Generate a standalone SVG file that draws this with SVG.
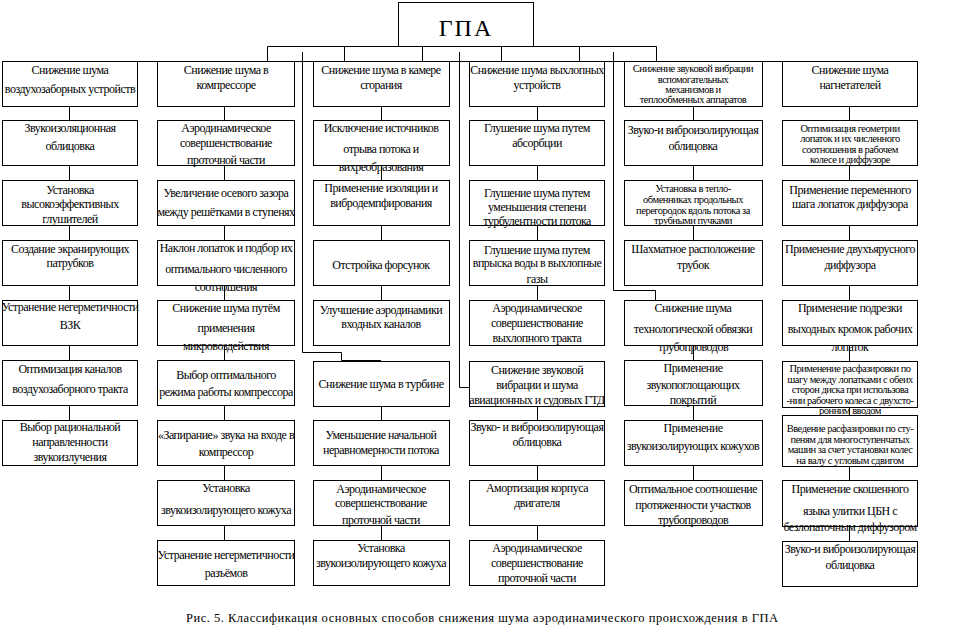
<svg xmlns="http://www.w3.org/2000/svg" width="965" height="637" viewBox="0 0 965 637">
<style>
.b{fill:#fff;stroke:#000;stroke-width:1}
.c{fill:none;stroke:#000;stroke-width:1}
text{font-family:"Times New Roman","Liberation Serif","DejaVu Serif",serif;font-size:12px;text-anchor:middle;letter-spacing:-0.5px;fill:#000}
.s{font-size:10.5px;letter-spacing:-0.5px}
.h{font-size:24px;letter-spacing:2px}
.cap{font-size:12.5px;letter-spacing:0}
</style>
<rect x="0" y="0" width="965" height="637" fill="#fff"/>
<g id="connectors" class="c">
<path d="M267.5 46.5H656.5"/>
<path d="M267.5 46.5V61M344.5 46.5V61M422.5 46.5V61M501.5 46.5V61M579.5 46.5V61M656.5 46.5V61"/>
<path d="M2 61.5H917"/>
<path d="M302.5 52V352.5H341.5V360.5H381"/>
<path d="M459.5 52V387.5H469"/>
<path d="M613.5 52V290.5H655.5V300"/>
<path d="M69.5 106V120M69.5 166V180M69.5 226V240M69.5 286V300M69.5 346V360M69.5 406V420"/>
<path d="M224.5 106V120M224.5 166V180M224.5 226V240M224.5 286V300M224.5 346V360M224.5 406V420M224.5 466V480M224.5 526V540"/>
<path d="M381.5 106V120M381.5 166V180M381.5 226V240M381.5 286V300M381.5 406V420M381.5 466V480M381.5 526V540"/>
<path d="M537.5 106V120M537.5 166V180M537.5 226V240M537.5 286V300M537.5 407V420M537.5 466V480M537.5 526V540"/>
<path d="M693.5 106V120M693.5 166V180M693.5 226V240M693.5 346V360M693.5 406V420M693.5 466V480"/>
<path d="M849.5 106V120M849.5 166V180M849.5 226V240M849.5 286V300M849.5 346V361M849.5 408V415M849.5 467V480M849.5 527V541"/>
</g>
<g id="gpa"><rect class="b" x="398.5" y="2.5" width="135" height="44"/><text class="h" x="466" y="36">ГПА</text></g>

<g id="c1n1"><rect class="b" x="2.5" y="61.5" width="135" height="45"/><text x="70" y="74">Снижение шума</text><text x="70" y="93">воздухозаборных  устройств</text></g>
<g id="c1n2"><rect class="b" x="2.5" y="120.5" width="135" height="45"/><text x="70" y="132">Звукоизоляционная</text><text x="70" y="150">облицовка</text></g>
<g id="c1n3"><rect class="b" x="2.5" y="180.5" width="135" height="45"/><text x="70" y="194">Установка</text><text x="70" y="208">высокоэффективных</text><text x="70" y="223">глушителей</text></g>
<g id="c1n4"><rect class="b" x="2.5" y="240.5" width="135" height="45"/><text x="70" y="253">Создание экранирующих</text><text x="70" y="267">патрубков</text></g>
<g id="c1n5"><rect class="b" x="2.5" y="300.5" width="135" height="45"/><text x="70" y="311">Устранение негерметичности</text><text x="70" y="329">ВЗК</text></g>
<g id="c1n6"><rect class="b" x="2.5" y="360.5" width="135" height="45"/><text x="70" y="373">Оптимизация каналов</text><text x="70" y="393">воздухозаборного тракта</text></g>
<g id="c1n7"><rect class="b" x="2.5" y="420.5" width="135" height="45"/><text x="70" y="431">Выбор рациональной</text><text x="70" y="446">направленности</text><text x="70" y="461">звукоизлучения</text></g>

<g id="c2n1"><rect class="b" x="157.5" y="61.5" width="137" height="45"/><text x="226" y="74">Снижение шума в</text><text x="226" y="89">компрессоре</text></g>
<g id="c2n2"><rect class="b" x="157.5" y="120.5" width="137" height="45"/><text x="226" y="132">Аэродинамическое</text><text x="226" y="147">совершенствование</text><text x="226" y="164">проточной части</text></g>
<g id="c2n3"><rect class="b" x="157.5" y="180.5" width="137" height="45"/><text x="226" y="197">Увеличение осевого зазора</text><text x="226" y="216">между решётками в ступенях</text></g>
<g id="c2n4"><rect class="b" x="157.5" y="240.5" width="137" height="45"/><text x="226" y="252">Наклон лопаток и подбор их</text><text x="226" y="273">оптимального  численного</text><text x="226" y="291">соотношения</text></g>
<g id="c2n5"><rect class="b" x="157.5" y="300.5" width="137" height="45"/><text x="226" y="312">Снижение шума путём</text><text x="226" y="332">применения</text><text x="226" y="350">микровоздействия</text></g>
<g id="c2n6"><rect class="b" x="157.5" y="360.5" width="137" height="45"/><text x="226" y="379">Выбор оптимального</text><text x="226" y="396">режима работы компрессора</text></g>
<g id="c2n7"><rect class="b" x="157.5" y="420.5" width="137" height="45"/><text x="226" y="439">«Запирание» звука на входе в</text><text x="226" y="456">компрессор</text></g>
<g id="c2n8"><rect class="b" x="157.5" y="480.5" width="137" height="45"/><text x="226" y="492">Установка</text><text x="226" y="514">звукоизолирующего  кожуха</text></g>
<g id="c2n9"><rect class="b" x="157.5" y="540.5" width="137" height="45"/><text x="226" y="559">Устранение негерметичности</text><text x="226" y="577">разъёмов</text></g>

<g id="c3n1"><rect class="b" x="313.5" y="61.5" width="136" height="45"/><text x="381" y="74">Снижение шума в камере</text><text x="381" y="89">сгорания</text></g>
<g id="c3n2"><rect class="b" x="313.5" y="120.5" width="136" height="45"/><text x="381" y="132">Исключение источников</text><text x="381" y="153">отрыва  потока и</text><text x="381" y="171">вихреобразования</text></g>
<g id="c3n3"><rect class="b" x="313.5" y="180.5" width="136" height="45"/><text x="381" y="192">Применение изоляции и</text><text x="381" y="207">вибродемпфирования</text></g>
<g id="c3n4"><rect class="b" x="313.5" y="240.5" width="136" height="45"/><text x="381" y="269">Отстройка форсунок</text></g>
<g id="c3n5"><rect class="b" x="313.5" y="300.5" width="136" height="45"/><text x="381" y="314">Улучшение аэродинамики</text><text x="381" y="328">входных каналов</text></g>
<g id="c3n6"><rect class="b" x="313.5" y="361.5" width="136" height="45"/><text x="381" y="388">Снижение шума в турбине</text></g>
<g id="c3n7"><rect class="b" x="313.5" y="420.5" width="136" height="45"/><text x="381" y="439">Уменьшение начальной</text><text x="381" y="454">неравномерности потока</text></g>
<g id="c3n8"><rect class="b" x="313.5" y="480.5" width="136" height="45"/><text x="381" y="493">Аэродинамическое</text><text x="381" y="507">совершенствование</text><text x="381" y="524">проточной части</text></g>
<g id="c3n9"><rect class="b" x="313.5" y="540.5" width="136" height="45"/><text x="381" y="552">Установка</text><text x="381" y="567">звукоизолирующего кожуха</text></g>

<g id="c4n1"><rect class="b" x="469.5" y="61.5" width="135" height="45"/><text x="537" y="74">Снижение шума выхлопных</text><text x="537" y="89">устройств</text></g>
<g id="c4n2"><rect class="b" x="469.5" y="120.5" width="135" height="45"/><text x="537" y="132">Глушение шума путем</text><text x="537" y="147">абсорбции</text></g>
<g id="c4n3"><rect class="b" x="469.5" y="180.5" width="135" height="45"/><text x="537" y="197">Глушение шума путем</text><text x="537" y="211">уменьшения  степени</text><text x="537" y="225">турбулентности потока</text></g>
<g id="c4n4"><rect class="b" x="469.5" y="240.5" width="135" height="45"/><text x="537" y="254">Глушение шума путем</text><text x="537" y="267">впрыска воды в выхлопные</text><text x="537" y="283">газы</text></g>
<g id="c4n5"><rect class="b" x="469.5" y="300.5" width="135" height="45"/><text x="537" y="312">Аэродинамическое</text><text x="537" y="327">совершенствование</text><text x="537" y="342">выхлопного тракта</text></g>
<g id="c4n6"><rect class="b" x="469.5" y="361.5" width="135" height="45"/><text x="537" y="374">Снижение звуковой</text><text x="537" y="389">вибрации и шума</text><text x="537" y="404">авиационных и судовых ГТД</text></g>
<g id="c4n7"><rect class="b" x="469.5" y="420.5" width="135" height="45"/><text x="537" y="431">Звуко- и виброизолирующая</text><text x="537" y="446">облицовка</text></g>
<g id="c4n8"><rect class="b" x="469.5" y="480.5" width="135" height="45"/><text x="537" y="492">Амортизация корпуса</text><text x="537" y="507">двигателя</text></g>
<g id="c4n9"><rect class="b" x="469.5" y="540.5" width="135" height="45"/><text x="537" y="552">Аэродинамическое</text><text x="537" y="567">совершенствование</text><text x="537" y="582">проточной части</text></g>

<g id="c5n1"><rect class="b" x="624.5" y="61.5" width="138" height="45"/><text class="s" x="693" y="72">Снижение звуковой вибрации</text><text class="s" x="693" y="83">вспомогательных</text><text class="s" x="693" y="93">механизмов и</text><text class="s" x="693" y="103">теплообменных аппаратов</text></g>
<g id="c5n2"><rect class="b" x="624.5" y="120.5" width="138" height="45"/><text x="693" y="134">Звуко-и виброизолирующая</text><text x="693" y="150">облицовка</text></g>
<g id="c5n3"><rect class="b" x="624.5" y="180.5" width="138" height="45"/><text class="s" x="693" y="192">Установка в тепло-</text><text class="s" x="693" y="203">обменниках продольных</text><text class="s" x="693" y="214">перегородок вдоль потока за</text><text class="s" x="693" y="224">трубными пучками</text></g>
<g id="c5n4"><rect class="b" x="624.5" y="240.5" width="138" height="45"/><text x="693" y="253">Шахматное расположение</text><text x="693" y="269">трубок</text></g>
<g id="c5n5"><rect class="b" x="624.5" y="300.5" width="138" height="45"/><text x="693" y="312">Снижение шума</text><text x="693" y="333">технологической обвязки</text><text x="693" y="351">трубопроводов</text></g>
<g id="c5n6"><rect class="b" x="624.5" y="360.5" width="138" height="45"/><text x="693" y="372">Применение</text><text x="693" y="389">звукопоглощающих</text><text x="693" y="404">покрытий</text></g>
<g id="c5n7"><rect class="b" x="624.5" y="420.5" width="138" height="45"/><text x="693" y="432">Применение</text><text x="693" y="450">звукоизолирующих кожухов</text></g>
<g id="c5n8"><rect class="b" x="624.5" y="480.5" width="138" height="45"/><text x="693" y="493">Оптимальное соотношение</text><text x="693" y="509">протяженности участков</text><text x="693" y="524">трубопроводов</text></g>

<g id="c6n1"><rect class="b" x="782.5" y="61.5" width="135" height="45"/><text x="850" y="74">Снижение шума</text><text x="850" y="89">нагнетателей</text></g>
<g id="c6n2"><rect class="b" x="782.5" y="120.5" width="135" height="45"/><text class="s" x="850" y="132">Оптимизация геометрии</text><text class="s" x="850" y="142">лопаток и их численного</text><text class="s" x="850" y="153">соотношения в рабочем</text><text class="s" x="850" y="163">колесе и диффузоре</text></g>
<g id="c6n3"><rect class="b" x="782.5" y="180.5" width="135" height="45"/><text x="850" y="194">Применение переменного</text><text x="850" y="208">шага лопаток диффузора</text></g>
<g id="c6n4"><rect class="b" x="782.5" y="240.5" width="135" height="45"/><text x="850" y="253">Применение двухъярусного</text><text x="850" y="269">диффузора</text></g>
<g id="c6n5"><rect class="b" x="782.5" y="300.5" width="135" height="45"/><text x="850" y="312">Применение подрезки</text><text x="850" y="333">выходных кромок  рабочих</text><text x="850" y="351">лопаток</text></g>
<g id="c6n6"><rect class="b" x="782.5" y="361.5" width="135" height="46"/><text class="s" x="850" y="372">Применение расфазировки по</text><text class="s" x="850" y="383">шагу между лопатками с обеих</text><text class="s" x="850" y="393">сторон диска при использова</text><text class="s" x="850" y="404">-нии рабочего колеса с двухсто-</text><text class="s" x="850" y="414">ронним вводом</text></g>
<g id="c6n7"><rect class="b" x="782.5" y="415.5" width="135" height="51"/><text class="s" x="850" y="432">Введение расфазировки по сту-</text><text class="s" x="850" y="443">пеням для многоступенчатых</text><text class="s" x="850" y="453">машин за счет установки колес</text><text class="s" x="850" y="464">на валу с угловым сдвигом</text></g>
<g id="c6n8"><rect class="b" x="782.5" y="480.5" width="135" height="46"/><text x="850" y="493">Применение скошенного</text><text x="850" y="515">языка улитки ЦБН с</text><text x="850" y="531">безлопаточным диффузором</text></g>
<g id="c6n9"><rect class="b" x="782.5" y="541.5" width="135" height="45"/><text x="850" y="553">Звуко-и виброизолирующая</text><text x="850" y="569">облицовка</text></g>

<text class="cap" x="482" y="622" textLength="592">Рис. 5. Классификация основных способов снижения шума  аэродинамического происхождения в ГПА</text>
</svg>
